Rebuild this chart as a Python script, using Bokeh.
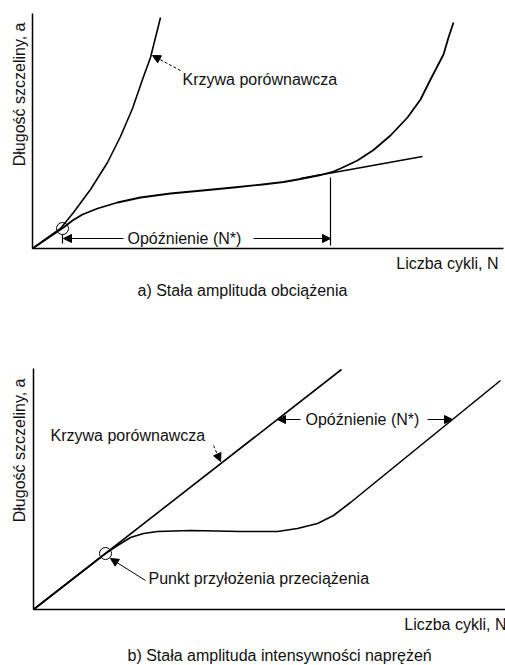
import numpy as np
from bokeh.plotting import figure
from bokeh.layouts import column
from bokeh.models import Range1d, FixedTicker, Label, Arrow, NormalHead
from bokeh.embed import file_html
from bokeh.resources import INLINE

FONT = "Liberation Sans"
FS = "16px"

# ---------------- data: panel a (constant load amplitude) ----------------
ref_a_N = [0, 28, 41, 58, 75, 88, 100, 110, 118, 123, 128]
ref_a_a = [0, 20, 36, 59, 86, 112, 140, 169, 191, 211, 231]
delay_a_N = [0, 31, 40, 50, 65, 85, 108, 138, 170, 201, 230, 251, 268, 288, 301, 308, 325, 341, 358,
             375, 388, 398, 411, 416, 421]
delay_a_a = [0, 21, 28, 34, 40, 46, 51, 55, 58, 61, 64, 66.5, 69.5, 73.5, 77, 80, 88, 98.5, 113,
             131, 149, 169, 194, 211, 226]
tan_a_N = [268, 390]
tan_a_a = [70, 92]
overload_a_N, overload_a_a = 30, 20
delay_end_a_N = 298
axis_a_N = (0, 471)
axis_a_a = (0, 235)

# ---------------- data: panel b (constant stress intensity amplitude) ----------------
ref_b_N = [0, 308]
ref_b_a = [0, 240]
delay_b_N = [0, 72, 84, 97, 110, 124, 157, 207, 244, 264, 284, 300, 317, 467]
delay_b_a = [0, 56, 64, 72, 76, 78, 79, 78, 78, 81, 86, 94, 107, 229]
overload_b_N, overload_b_a = 72, 56
axis_b_N = (0, 472)
axis_b_a = (0, 241)

y_label = "Długość szczeliny, a"
x_label = "Liczba cykli, N"
ref_label = "Krzywa porównawcza"
delay_label = "Opóźnienie (N*)"
point_label = "Punkt przyłożenia przeciążenia"
caption_a = "a) Stała amplituda obciążenia"
caption_b = "b) Stała amplituda intensywności naprężeń"


def make_fig(w, h, xr, yr, xb, yb):
    p = figure(width=w, height=h, x_range=Range1d(*xr), y_range=Range1d(*yr),
               output_backend="svg", toolbar_location=None, title=None,
               min_border=0)
    p.grid.visible = False
    p.outline_line_color = None
    p.background_fill_color = "white"
    p.border_fill_color = "white"
    for ax in p.axis:
        ax.fixed_location = 0
        ax.ticker = FixedTicker(ticks=[])
        ax.major_tick_out = 0
        ax.major_tick_in = 0
        ax.minor_tick_out = 0
        ax.minor_tick_in = 0
        ax.major_label_text_font_size = "0px"
        ax.axis_line_width = 1.5
        ax.axis_line_color = "black"
    p.xaxis.bounds = xb
    p.yaxis.bounds = yb
    return p


def lbl(p, x, y, text, align="left", angle=0):
    p.add_layout(Label(x=x, y=y, text=text, text_font=FONT, text_font_size=FS,
                       text_align=align, text_baseline="middle", text_color="#111111",
                       angle=angle))


def arrow(p, xs, ys, xe, ye, dash="solid"):
    p.add_layout(Arrow(end=NormalHead(size=8, fill_color="black", line_color="black", line_width=1),
                       x_start=xs, y_start=ys, x_end=xe, y_end=ye,
                       line_width=1, line_color="black", line_dash=dash))


# ---------------- panel a ----------------
pa = make_fig(505, 320, (-32, 473), (-72, 248), axis_a_N, axis_a_a)
pa.line(ref_a_N, ref_a_a, line_width=1.6, line_color="black", line_join="round")
pa.line(delay_a_N, delay_a_a, line_width=1.8, line_color="black", line_join="round")
pa.line(tan_a_N, tan_a_a, line_width=1.4, line_color="black")
pa.scatter([overload_a_N], [overload_a_a], size=12, marker="circle",
           fill_color=None, line_color="black", line_width=1)
pa.segment(x0=[delay_end_a_N], y0=[3], x1=[delay_end_a_N], y1=[71], line_color="black", line_width=1.2)
pa.segment(x0=[overload_a_N], y0=[5], x1=[overload_a_N], y1=[14], line_color="black", line_width=1.2)
arrow(pa, 91, 10, overload_a_N + 1, 10)
arrow(pa, 221, 10, delay_end_a_N, 10)
lbl(pa, 95, 10, delay_label)
lbl(pa, 150, 169, ref_label)
arrow(pa, 148, 178, 120, 193, dash="3 2")
lbl(pa, 466, -15, x_label, align="right")
lbl(pa, 105, -42, caption_a)
lbl(pa, -13, 226, y_label, align="right", angle=np.pi / 2)

# ---------------- panel b ----------------
pb = make_fig(505, 345, (-33, 472), (-56, 289), axis_b_N, axis_b_a)
pb.line(ref_b_N, ref_b_a, line_width=1.6, line_color="black")
pb.line(delay_b_N, delay_b_a, line_width=1.6, line_color="black", line_join="round")
pb.scatter([overload_b_N], [overload_b_a], size=12, marker="circle",
           fill_color=None, line_color="black", line_width=1)
lbl(pb, 17, 174, ref_label)
arrow(pb, 180, 164, 187, 148, dash="3 2")
lbl(pb, 272, 190, delay_label)
arrow(pb, 267, 190, 244, 190)
arrow(pb, 394, 190, 419, 190)
lbl(pb, 115, 31, point_label)
arrow(pb, 112, 29, overload_b_N + 5, 51)
lbl(pb, 473, -15, x_label, align="right")
lbl(pb, 94, -46, caption_b)
lbl(pb, -14, 231, y_label, align="right", angle=np.pi / 2)

layout = column(pa, pb, spacing=0)
open("out.html", "w").write(file_html(layout, INLINE))
